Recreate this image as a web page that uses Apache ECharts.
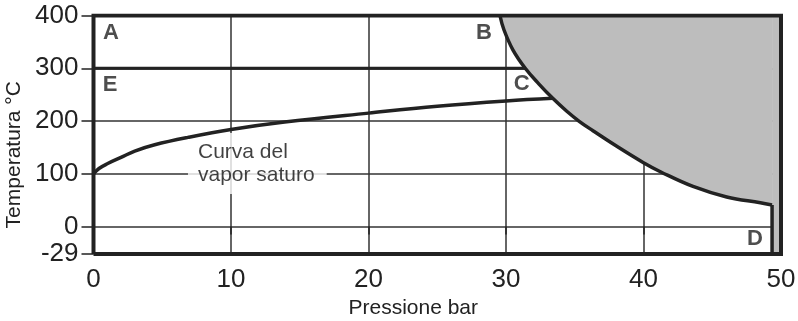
<!DOCTYPE html>
<html>
<head>
<meta charset="utf-8">
<script src="https://cdn.jsdelivr.net/npm/echarts@6/dist/echarts.min.js"></script>
<style>html,body{margin:0;padding:0;background:#fff;}#c{width:798px;height:321px;}</style>
</head>
<body>
<div id="c"></div>
<script>
// Axis definition
const xMin = 0, xMax = 50, xInterval = 10;
const yMin = -52, yMax = 400;            // bottom edge is labelled "-29"
const yTickValues = [-52, 0, 100, 200, 300, 400];
const yTickLabels = ['-29', '0', '100', '200', '300', '400'];

// Curva del vapor saturo (pressure bar, temperature °C)
const saturoP = [0, 0.4, 1, 2, 3, 4.45, 6.87, 10, 13.9, 20, 25, 30, 33.4];
const saturoT = [100, 110, 119, 131, 143, 155, 169, 184, 198, 215, 228, 238, 243];

// Limit curve bounding the grey region
const limitP = [29.56, 29.85, 30.5, 31.4, 32.4, 33.4, 34.4, 35.3, 36.3, 38.0, 40.0, 41.3, 43.6, 46.05, 48.5, 49.35];
const limitT = [400, 373, 335, 300, 270, 243, 219, 200, 182, 153, 121, 103, 76, 56, 45, 41];

// Line E (300 °C) and line D
const eLineP = [0, 31.4];
const eLineT = [300, 300];
const dLineP = [49.35, 49.35];
const dLineT = [41, -52];

// Region letters
const letterNames = ['A', 'B', 'C', 'D', 'E'];
const letterP = [1.27, 28.4, 31.14, 48.1, 1.2];
const letterT = [367, 367, 270.5, -23.3, 268.6];

// Curve note (box anchored at its left edge)
const noteText = 'Curva del\nvapor saturo';
const noteP = 6.87, noteT = 119.3;

const FONT = 'Liberation Sans, Arial, Helvetica, sans-serif';
const INK = '#222';
const zip = (a, b) => a.map((v, i) => [v, b[i]]);

const chart = echarts.init(document.getElementById('c'), null, {renderer: 'canvas'});
chart.setOption({
  animation: false,
  backgroundColor: '#fff',
  grid: {left: 93.5, right: 17, top: 15.5, bottom: 67, containLabel: false, outerBoundsMode: 'none'},
  xAxis: {
    type: 'value', min: xMin, max: xMax, interval: xInterval,
    name: 'Pressione bar', nameLocation: 'middle', nameGap: 43,
    nameTextStyle: {fontFamily: FONT, fontSize: 21, color: INK, padding: [0, 48, 0, 0]},
    axisLine: {show: false},
    axisTick: {show: true, length: 8, lineStyle: {color: INK, width: 1.5}},
    axisLabel: {fontFamily: FONT, fontSize: 26, color: INK, margin: 13},
    splitLine: {show: true, lineStyle: {color: '#333', width: 1.5}}
  },
  yAxis: {
    type: 'value', min: yMin, max: yMax, splitNumber: 5,
    name: 'Temperatura °C', nameLocation: 'middle', nameGap: 68, nameRotate: 90,
    nameTextStyle: {fontFamily: FONT, fontSize: 21, color: INK, padding: [0, 40, 0, 0]},
    axisLine: {show: false},
    axisTick: {show: true, length: 12, customValues: yTickValues, lineStyle: {color: INK, width: 1.5}},
    axisLabel: {
      fontFamily: FONT, fontSize: 26, color: INK, margin: 15,
      customValues: yTickValues,
      formatter: v => { const i = yTickValues.indexOf(v); return i >= 0 ? yTickLabels[i] : ''; }
    },
    splitLine: {show: true, lineStyle: {color: '#333', width: 1.5}}
  },
  series: [
    { // grey region above limit curve
      type: 'line', z: 2, silent: true, showSymbol: false, smooth: 0.4,
      data: zip(limitP, limitT),
      lineStyle: {width: 0}, areaStyle: {origin: 'end', color: '#bdbdbd', opacity: 1}
    },
    { // grey strip right of line D
      type: 'line', z: 2, silent: true, showSymbol: false,
      data: zip([dLineP[0], xMax], [yMin, yMin]),
      lineStyle: {width: 0}, areaStyle: {origin: 'end', color: '#bdbdbd', opacity: 1}
    },
    { // note
      type: 'scatter', z: 2, silent: true, symbolSize: 0,
      data: [{name: noteText, value: [noteP, noteT]}],
      label: {show: true, position: 'inside', formatter: '{b}', fontFamily: FONT, fontSize: 21,
        lineHeight: 23, color: '#111', align: 'left', backgroundColor: '#fff', padding: [12, 12, 3, 10]}
    },
    { // limit curve stroke
      type: 'line', z: 3, silent: true, showSymbol: false, smooth: 0.4,
      data: zip(limitP, limitT), lineStyle: {color: INK, width: 3.5}
    },
    { // line D
      type: 'line', z: 3, silent: true, showSymbol: false,
      data: zip(dLineP, dLineT), lineStyle: {color: INK, width: 3.5}
    },
    { // line E at 300
      type: 'line', z: 3, silent: true, showSymbol: false,
      data: zip(eLineP, eLineT), lineStyle: {color: INK, width: 3}
    },
    { // saturated vapour curve
      type: 'line', z: 3, silent: true, showSymbol: false, smooth: 0.4,
      data: zip(saturoP, saturoT), lineStyle: {color: INK, width: 3.5}
    },
    { // frame
      type: 'line', z: 4, silent: true, showSymbol: false,
      data: zip([xMin, xMin, xMax, xMax, xMin], [yMin, yMax, yMax, yMin, yMin]),
      lineStyle: {color: INK, width: 4, join: 'miter'}
    },
    { // letters
      type: 'scatter', z: 5, silent: true, symbolSize: 0,
      data: letterNames.map((n, i) => ({name: n, value: [letterP[i], letterT[i]]})),
      label: {show: true, position: 'inside', formatter: '{b}', fontFamily: FONT, fontSize: 22,
        fontWeight: 'bold', color: INK}
    }
  ]
});
</script>
</body>
</html>
